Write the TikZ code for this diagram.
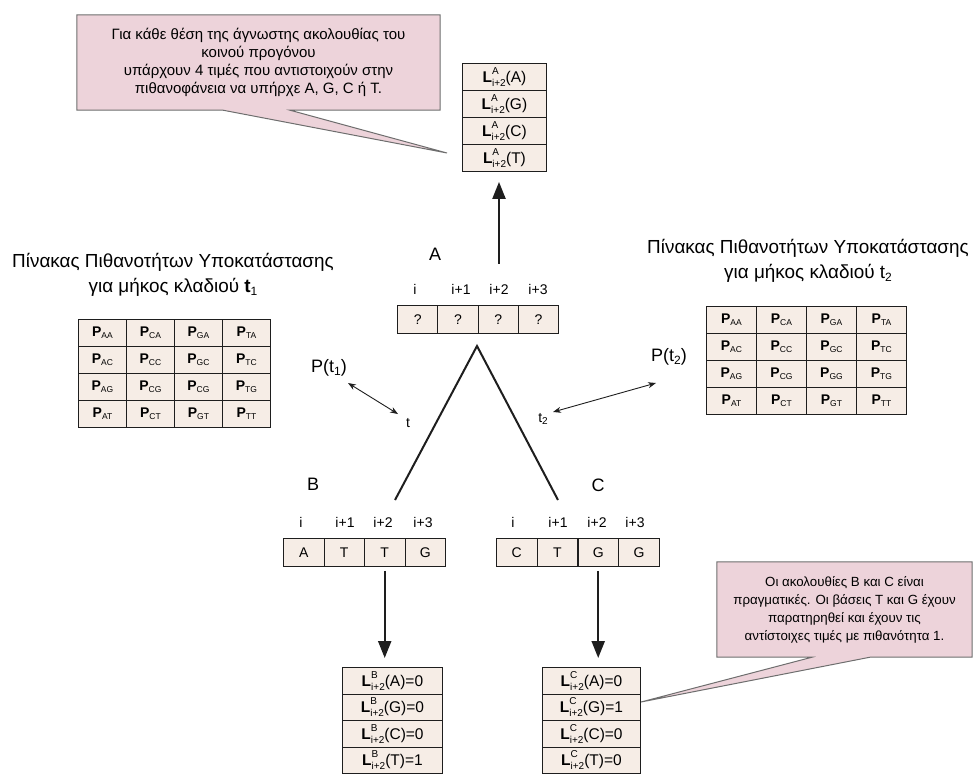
\documentclass[tikz,border=0pt]{standalone}
\usepackage{fontspec}
\setmainfont{Liberation Sans}
\usetikzlibrary{arrows.meta,backgrounds}
\definecolor{notefill}{HTML}{EDD3DA}
\definecolor{noteline}{HTML}{6E6E6E}
\definecolor{cellfill}{HTML}{F6EDE6}
\definecolor{ink}{HTML}{1E1E1E}
% table entries: P with a subscript, L with stacked super- and subscript
\newcommand\Pentry[1]{\textbf{P}\raisebox{-0.3ex}{\fontsize{8.5}{9}\selectfont #1}}
\newcommand\Lentry[4]{\textbf{L}\rlap{\raisebox{1.0ex}{\fontsize{10}{10}\selectfont #1}}\raisebox{-0.5ex}{\fontsize{10}{10}\selectfont #2}(#3)#4}
\begin{document}
\begin{tikzpicture}[x=1pt,y=-1pt,
  cell/.style={draw=ink, fill=cellfill, line width=0.9pt, inner sep=0pt,
    anchor=north west, font=\fontsize{14}{16}\selectfont},
  lcell/.style={cell, font=\fontsize{15.5}{17}\selectfont},
  seqcell/.style={cell, minimum width=40.5pt, minimum height=28pt},
  idx/.style={font=\fontsize{14}{16}\selectfont, inner sep=1pt},
  big/.style={font=\fontsize{18}{20}\selectfont, inner sep=1pt},
  title/.style={font=\fontsize{18.9}{25}\selectfont, align=center, inner sep=0pt},
  notetext/.style={align=center, inner sep=0pt},
  notebox/.style={fill=notefill, draw=noteline, line width=1pt, line join=miter},
  bigarrow/.style={line width=2.2pt, ink, -{Triangle[width=13pt,length=17pt]}},
  branch/.style={line width=2pt, ink},
  dbl/.style={line width=0.9pt, ink, {Stealth[length=8pt,width=6pt]}-{Stealth[length=8pt,width=6pt]}}]
\useasboundingbox (0,0) rectangle (973,773);

% ---- ancestor likelihood column ----
\foreach [count=\k from 1] \b in {A,G,C,T}
  \node[lcell, minimum width=84pt, minimum height=27pt] (LA-\k) at (462,{63+27*(\k-1)}) {\Lentry{A}{i+2}{\b}{}};

% ---- ancestor sequence A ----
\node[big] (labA) at (435,254) {A};
\foreach [count=\k from 1] \t/\x in {i/415,i+1/461,i+2/499,i+3/538}
  \node[idx] (ia\k) at (\x,289) {\t};
\foreach \k in {1,...,4}
  \node[seqcell] (As\k) at ({397+40.3*(\k-1)},305) {?};

% ---- sequences B and C ----
\node[big] (labB) at (313,484) {B};
\node[big] (labC) at (598,485) {C};
\foreach [count=\k from 1] \t/\x in {i/301,i+1/345,i+2/383,i+3/423}
  \node[idx] (ib\k) at (\x,522) {\t};
\foreach [count=\k from 1] \t/\x in {i/513,i+1/558,i+2/597,i+3/635}
  \node[idx] (ic\k) at (\x,522) {\t};
\foreach [count=\k from 1] \s in {A,T,T,G}
  \node[seqcell] (Bs\k) at ({283+40.5*(\k-1)},538) {\s};
\foreach [count=\k from 1] \s in {C,T,G,G}
  \node[seqcell] (Cs\k) at ({496+40.75*(\k-1)},538) {\s};

% ---- leaf likelihood columns ----
\foreach [count=\k from 1] \b/\v in {A/0,G/0,C/0,T/1}
  \node[lcell, minimum width=100pt, minimum height=26.5pt] (LB-\k) at (342,{667+26.5*(\k-1)}) {\Lentry{B}{i+2}{\b}{=\v}};
\foreach [count=\k from 1] \b/\v in {A/0,G/1,C/0,T/0}
  \node[lcell, minimum width=98pt, minimum height=26.5pt] (LC-\k) at (542,{667+26.5*(\k-1)}) {\Lentry{C}{i+2}{\b}{=\v}};

% ---- substitution probability tables ----
\node[title] (titL) at (173,275) {Πίνακας Πιθανοτήτων Υποκατάστασης\\για μήκος κλαδιού \textbf{t}\raisebox{-0.3ex}{\fontsize{12}{12}\selectfont 1}};
\foreach [count=\k from 0] \t in {AA,CA,GA,TA,AC,CC,GC,TC,AG,CG,CG,TG,AT,CT,GT,TT} {
  \pgfmathtruncatemacro\r{int(\k/4)}
  \pgfmathtruncatemacro\c{mod(\k,4)}
  \node[cell, minimum width=48pt, minimum height=27pt] (pl-\r-\c) at ({78+48*\c},{319+27*\r}) {\Pentry{\t}};
}
\node[title] (titR) at (808,261) {Πίνακας Πιθανοτήτων Υποκατάστασης\\για μήκος κλαδιού t\raisebox{-0.3ex}{\fontsize{12}{12}\selectfont 2}};
\foreach [count=\k from 0] \t in {AA,CA,GA,TA,AC,CC,GC,TC,AG,CG,GG,TG,AT,CT,GT,TT} {
  \pgfmathtruncatemacro\r{int(\k/4)}
  \pgfmathtruncatemacro\c{mod(\k,4)}
  \node[cell, minimum width=50pt, minimum height=27pt] (pr-\r-\c) at ({706+50*\c},{306+27*\r}) {\Pentry{\t}};
}

% ---- tree branches ----
\coordinate (apex) at (477,346);
\coordinate (leafB) at (395,500);
\coordinate (leafC) at (558,500);
\draw[branch] (leafB) -- (apex) -- (leafC);
\node[idx] (tl) at (408,423) {t};
\node[idx] (tr) at (543,419) {t\raisebox{-0.3ex}{\fontsize{10}{10}\selectfont 2}};
\node[big] (pt1) at (329,368) {P(t\raisebox{-0.3ex}{\fontsize{12}{12}\selectfont 1})};
\node[big] (pt2) at (669,357) {P(t\raisebox{-0.3ex}{\fontsize{12}{12}\selectfont 2})};
\coordinate (d1a) at (348,383);
\coordinate (d1b) at (398,414);
\coordinate (d2a) at (553,412);
\coordinate (d2b) at (656,383);
\draw[dbl] (d1a) -- (d1b);
\draw[dbl] (d2a) -- (d2b);

% ---- likelihood arrows ----
\draw[bigarrow, shorten <=19pt, shorten >=10pt] (ia3.north) -- (ia3.north |- LA-4.south);
\draw[bigarrow, shorten <=4pt, shorten >=9pt] (Bs3.south) -- (Bs3.south |- LB-1.north);
\draw[bigarrow, shorten <=4pt, shorten >=9pt] (Cs3.south) -- (Cs3.south |- LC-1.north);

% ---- notes ----
\node[notetext, font=\fontsize{15}{18}\selectfont, minimum width=363pt, minimum height=95pt] (note1) at (258.5,62.5)
  {Για κάθε θέση της άγνωστης ακολουθίας του\\κοινού προγόνου\\υπάρχουν 4 τιμές που αντιστοιχούν στην\\πιθανοφάνεια να υπήρχε A, G, C ή T.};
\coordinate (tip1) at (447,153);
\node[notetext, font=\fontsize{13.3}{18}\selectfont, minimum width=255pt, minimum height=95pt] (note2) at (844.5,609.5)
  {Οι ακολουθίες B και C είναι\\πραγματικές. Οι βάσεις T και G έχουν\\παρατηρηθεί και έχουν τις\\αντίστοιχες τιμές με πιθανότητα 1.};
\coordinate (tip2) at (641,702);
\begin{scope}[on background layer]
  \draw[notebox] (note1.north west) -- (note1.north east) -- (note1.south east)
    -- ([xshift=31.5pt]note1.south) -- (tip1) -- ([xshift=-35.5pt]note1.south)
    -- (note1.south west) -- cycle;
  \draw[notebox] (note2.north west) -- (note2.north east) -- (note2.south east)
    -- ([xshift=25.5pt]note2.south) -- (tip2) -- ([xshift=-32.5pt]note2.south)
    -- (note2.south west) -- cycle;
\end{scope}
\end{tikzpicture}
\end{document}
